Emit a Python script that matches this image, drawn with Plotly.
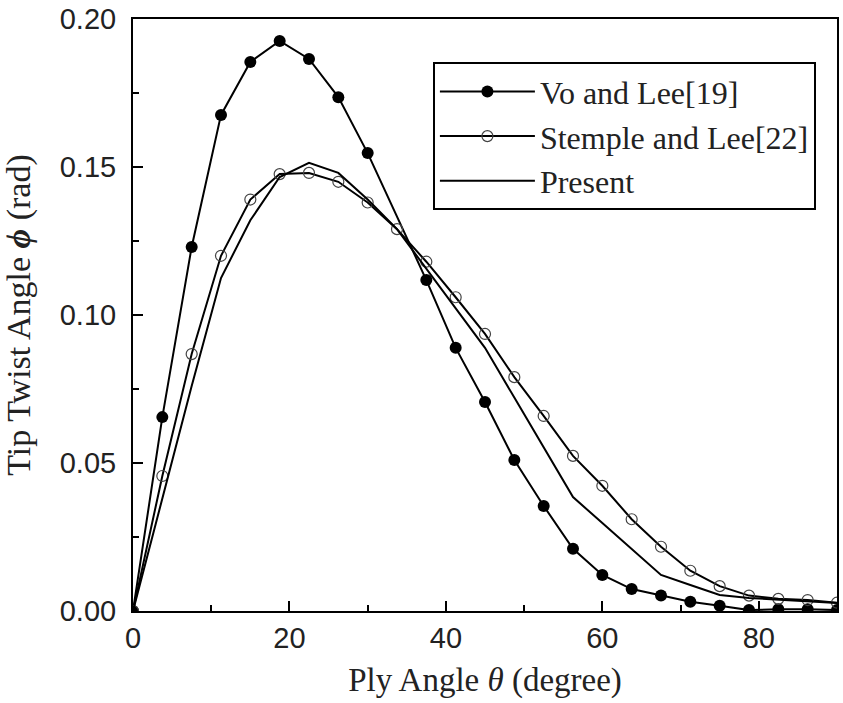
import plotly.graph_objects as go

# Vo and Lee [19]
vo_x = [0, 3.75, 7.5, 11.25, 15, 18.75, 22.5, 26.25, 30, 37.5, 41.25, 45, 48.75,
        52.5, 56.25, 60, 63.75, 67.5, 71.25, 75, 78.75, 82.5, 86.25, 90]
vo_y = [0.0, 0.0655, 0.123, 0.1676, 0.1855, 0.1926, 0.1865, 0.1736, 0.1547, 0.1118,
        0.0889, 0.0706, 0.051, 0.0355, 0.021, 0.0122, 0.0074, 0.0052, 0.0031,
        0.0018, 0.0003, 0.0006, 0.0006, 0.0003]

# Stemple and Lee [22]
st_x = [0, 3.75, 7.5, 11.25, 15, 18.75, 22.5, 26.25, 30, 33.75, 37.5, 41.25, 45,
        48.75, 52.5, 56.25, 60, 63.75, 67.5, 71.25, 75, 78.75, 82.5, 86.25, 90]
st_y = [0.0, 0.0456, 0.0868, 0.120, 0.139, 0.1476, 0.148, 0.145, 0.138, 0.129, 0.118,
        0.106, 0.0936, 0.079, 0.0659, 0.0524, 0.0423, 0.031, 0.0217, 0.0136,
        0.0084, 0.0052, 0.0041, 0.0037, 0.0028]

# Present
pr_x = [0, 3.75, 7.5, 11.25, 15, 18.75, 22.5, 26.25, 30, 33.75, 37.5, 41.25, 45,
        48.75, 52.5, 56.25, 60, 63.75, 67.5, 71.25, 75, 78.75, 82.5, 86.25, 90]
pr_y = [0.0, 0.038, 0.076, 0.1125, 0.132, 0.1466, 0.1514, 0.148, 0.139, 0.129, 0.1156,
        0.1022, 0.0889, 0.0721, 0.0553, 0.0385, 0.0297, 0.021, 0.0122, 0.0088,
        0.0054, 0.0044, 0.0038, 0.0032, 0.0027]

x_tick_vals = [0, 20, 40, 60, 80]
y_tick_vals = [0.00, 0.05, 0.10, 0.15, 0.20]
y_tick_text = ["0.00", "0.05", "0.10", "0.15", "0.20"]

fig = go.Figure()
fig.add_trace(go.Scatter(
    x=vo_x, y=vo_y, mode="lines+markers", name="Vo and Lee[19]",
    line=dict(color="black", width=2),
    marker=dict(symbol="circle", size=12, color="black"),
))
fig.add_trace(go.Scatter(
    x=st_x, y=st_y, mode="lines+markers", name="Stemple and Lee[22]",
    line=dict(color="black", width=2),
    marker=dict(symbol="circle-open", size=11, color="#444444", line=dict(width=1.2)),
))
fig.add_trace(go.Scatter(
    x=pr_x, y=pr_y, mode="lines", name="Present",
    line=dict(color="black", width=2),
))

axis_common = dict(
    showline=True, linecolor="black", linewidth=2, mirror=True,
    ticks="inside", ticklen=10, tickwidth=2, tickcolor="black",
    showgrid=False, zeroline=False, automargin=False,
    ticklabeloverflow="allow",
    tickfont=dict(family="Liberation Sans, Arial", size=29, color="#222222"),
)

fig.update_xaxes(
    range=[0, 90], tickvals=x_tick_vals,
    minor=dict(ticks="inside", ticklen=6, tickwidth=2, tickcolor="black", dtick=10, tick0=0),
    title=dict(text="Ply Angle <i>θ</i> (degree)",
               font=dict(family="Liberation Serif, Times New Roman", size=33, color="#222222"),
               standoff=15),
    **axis_common,
)
fig.update_yaxes(
    range=[0, 0.20], tickvals=y_tick_vals, ticktext=y_tick_text,
    ticklabelstandoff=9,
    minor=dict(ticks="inside", ticklen=6, tickwidth=2, tickcolor="black", dtick=0.025, tick0=0),
    title=dict(text="Tip Twist Angle <b><i>ϕ</i></b> (rad)",
               font=dict(family="Liberation Serif, Times New Roman", size=34, color="#222222"),
               standoff=25),
    **axis_common,
)

fig.update_layout(
    width=843, height=703,
    margin=dict(l=133, r=6, t=19, b=92),
    plot_bgcolor="white", paper_bgcolor="white",
    showlegend=True,
    legend=dict(
        x=0.426, y=0.927, xanchor="left", yanchor="top",
        bordercolor="black", borderwidth=2, bgcolor="white",
        font=dict(family="Liberation Serif, Times New Roman", size=32, color="#222222"),
        tracegroupgap=0, itemwidth=95,
    ),
)

fig.write_html("out.html", config={"displayModeBar": False},
               post_script="document.body.style.margin='0';")
